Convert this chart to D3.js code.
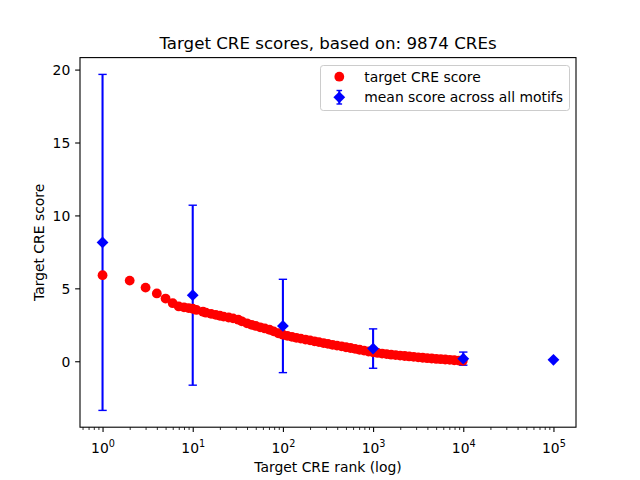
<!DOCTYPE html>
<html>
<head>
<meta charset="utf-8">
<script src="https://cdn.jsdelivr.net/npm/d3@7"></script>
<style>
  body { margin: 0; background: #fff; }
  svg { display: block; font-family: "DejaVu Sans", sans-serif; }
</style>
</head>
<body>
<div id="chart-area"><svg></svg></div>
<script>
// Target CRE score, one entry per plotted rank
const creRanks = [1, 2, 3, 4, 5, 6, 7, 8, 9,
    10, 11, 13, 14, 16, 18, 20, 22, 25, 28, 32, 35, 40, 45, 50, 56, 63, 71, 79, 89,
    100, 112, 126, 141, 158, 178, 200, 224, 251, 282, 316, 355, 398, 447, 501, 562, 631, 708, 794, 891,
    1000, 1122, 1259, 1413, 1585, 1778, 1995, 2239, 2512, 2818, 3162, 3548, 3981, 4467, 5012, 5623, 6310, 7079, 7943, 8913, 9874];
const creScores = [5.9, 5.53, 5.05, 4.65, 4.3, 3.98, 3.76, 3.7, 3.65,
    3.6, 3.52, 3.4, 3.33, 3.25, 3.18, 3.12, 3.06, 3.0, 2.94, 2.85, 2.74, 2.6, 2.5, 2.42, 2.33, 2.25, 2.16, 2.05, 1.92,
    1.82, 1.74, 1.67, 1.61, 1.55, 1.49, 1.43, 1.37, 1.31, 1.25, 1.19, 1.13, 1.07, 1.02, 0.96, 0.91, 0.85, 0.79, 0.73, 0.67,
    0.61, 0.57, 0.53, 0.49, 0.45, 0.42, 0.39, 0.36, 0.33, 0.3, 0.27, 0.24, 0.21, 0.19, 0.16, 0.14, 0.12, 0.1, 0.07, 0.05, 0.03];

// Mean score across all motifs, with error (std)
const meanRanks = [1, 10, 100, 1000, 10000, 100000];
const meanScores = [8.15, 4.53, 2.42, 0.87, 0.18, 0.1];
const meanErrors = [11.52, 6.17, 3.2, 1.35, 0.45, 0];

const xTicks = [1, 10, 100, 1000, 10000, 100000];
const yTicks = [0, 5, 10, 15, 20];

const titleText = "Target CRE scores, based on: 9874 CREs";
const xLabel = "Target CRE rank (log)";
const yLabel = "Target CRE score";
const legendLabels = ["target CRE score", "mean score across all motifs"];

const width = 640, height = 480;
const svg = d3.select("#chart-area").select("svg")
    .attr("width", width).attr("height", height);

// matplotlib default axes box
const margin = { top: 57.6, right: 64, bottom: 52.8, left: 80 };
const x0 = margin.left, x1 = width - margin.right;
const y0 = height - margin.bottom, y1 = margin.top;

// Autoscale with 5% padding like matplotlib
const lx = d3.extent(creRanks.concat(meanRanks)).map(Math.log10);
const padX = (lx[1] - lx[0]) * 0.05;
const x = d3.scaleLog().domain([10 ** (lx[0] - padX), 10 ** (lx[1] + padX)]).range([x0, x1]);

const lo = d3.min(meanScores.map((d, i) => d - meanErrors[i]).concat(creScores));
const hi = d3.max(meanScores.map((d, i) => d + meanErrors[i]).concat(creScores));
const padY = (hi - lo) * 0.05;
const y = d3.scaleLinear().domain([lo - padY, hi + padY]).range([y0, y1]);

const fontSize = 13.9;
const dotR = 4.9;

// ---- axes ----
const xAxis = svg.append("g").attr("transform", `translate(0,${y0})`)
    .call(d3.axisBottom(x).tickValues(xTicks).tickSize(4.86).tickSizeOuter(0).tickFormat(""));
xAxis.select(".domain").remove();
xAxis.selectAll("line").attr("stroke", "#000").attr("stroke-width", 1.1);
xAxis.selectAll(".tick text").each(function (d) {
    const t = d3.select(this)
        .attr("y", 25.8).attr("dy", 0)
        .attr("fill", "#000").attr("font-size", fontSize)
        .attr("font-family", "DejaVu Sans").attr("text-anchor", "middle");
    t.append("tspan").text("10");
    t.append("tspan").attr("dy", -6.3).attr("font-size", 9.7).text(Math.round(Math.log10(d)));
});

// minor ticks 2..9 per decade
const dom = x.domain();
const minor = [];
for (let e = -1; e <= 5; e++) {
    for (let m = 2; m <= 9; m++) {
        const v = m * 10 ** e;
        if (v >= dom[0] && v <= dom[1]) minor.push(v);
    }
}
const xMinor = svg.append("g").attr("transform", `translate(0,${y0})`)
    .call(d3.axisBottom(x).tickValues(minor).tickSize(2.78).tickSizeOuter(0).tickFormat(""));
xMinor.select(".domain").remove();
xMinor.selectAll("line").attr("stroke", "#000").attr("stroke-width", 0.83);

const yAxis = svg.append("g").attr("transform", `translate(${x0},0)`)
    .call(d3.axisLeft(y).tickValues(yTicks).tickSize(4.86).tickPadding(4.86).tickSizeOuter(0));
yAxis.select(".domain").remove();
yAxis.selectAll("line").attr("stroke", "#000").attr("stroke-width", 1.1);
yAxis.selectAll("text").attr("fill", "#000").attr("font-size", fontSize)
    .attr("font-family", "DejaVu Sans").attr("dy", "0.36em");

// ---- plot area ----
const plot = svg.append("g");

// error bars
const errs = meanRanks.map((r, i) => ({ r, m: meanScores[i], e: meanErrors[i] }));
plot.selectAll("line.err").data(errs).join("line").attr("class", "err")
    .attr("x1", d => x(d.r)).attr("x2", d => x(d.r))
    .attr("y1", d => y(d.m - d.e)).attr("y2", d => y(d.m + d.e))
    .attr("stroke", "#0000ff").attr("stroke-width", 2.08);
["lo", "hi"].forEach(k => {
    plot.selectAll("line.cap" + k).data(errs.filter(d => d.e > 0)).join("line").attr("class", "cap" + k)
        .attr("x1", d => x(d.r) - 4.17).attr("x2", d => x(d.r) + 4.17)
        .attr("y1", d => y(k === "lo" ? d.m - d.e : d.m + d.e))
        .attr("y2", d => y(k === "lo" ? d.m - d.e : d.m + d.e))
        .attr("stroke", "#0000ff").attr("stroke-width", 1.4);
});

// red target CRE scores
plot.selectAll("circle.cre").data(creRanks.map((r, i) => [r, creScores[i]])).join("circle")
    .attr("class", "cre")
    .attr("cx", d => x(d[0])).attr("cy", d => y(d[1])).attr("r", dotR)
    .attr("fill", "#ff0000");

// blue diamonds
const dia = 5.9;
const diamond = `M0,${-dia}L${dia},0L0,${dia}L${-dia},0Z`;
plot.selectAll("path.mean").data(errs).join("path").attr("class", "mean")
    .attr("d", diamond)
    .attr("transform", d => `translate(${x(d.r)},${y(d.m)})`)
    .attr("fill", "#0000ff");

// frame
svg.append("rect").attr("x", x0).attr("y", y1).attr("width", x1 - x0).attr("height", y0 - y1)
    .attr("fill", "none").attr("stroke", "#000").attr("stroke-width", 1.1);

// ---- text ----
svg.append("text").attr("x", (x0 + x1) / 2).attr("y", 49.3)
    .attr("text-anchor", "middle").attr("font-size", 16.67).text(titleText);
svg.append("text").attr("x", (x0 + x1) / 2).attr("y", 471.5)
    .attr("text-anchor", "middle").attr("font-size", fontSize).text(xLabel);
svg.append("text").attr("transform", `translate(43.5,${(y0 + y1) / 2}) rotate(-90)`)
    .attr("text-anchor", "middle").attr("font-size", fontSize).text(yLabel);

// ---- legend ----
const lg = svg.append("g");
lg.append("rect").attr("x", 320.5).attr("y", 65.5).attr("width", 249).attr("height", 45)
    .attr("rx", 2.8).attr("fill", "#fff").attr("fill-opacity", 0.8)
    .attr("stroke", "#cccccc").attr("stroke-width", 1);
lg.append("circle").attr("cx", 339.3).attr("cy", 76.7).attr("r", dotR).attr("fill", "#ff0000");
lg.append("line").attr("x1", 339.3).attr("x2", 339.3).attr("y1", 90.5).attr("y2", 104)
    .attr("stroke", "#0000ff").attr("stroke-width", 2.08);
[90.5, 104].forEach(cy => lg.append("line").attr("x1", 336.5).attr("x2", 342.1)
    .attr("y1", cy).attr("y2", cy).attr("stroke", "#0000ff").attr("stroke-width", 1.4));
lg.append("path").attr("d", diamond).attr("transform", "translate(339.3,97.3)").attr("fill", "#0000ff");
legendLabels.forEach((t, i) => {
    lg.append("text").attr("x", 364.3).attr("y", 81.5 + i * 20.5)
        .attr("font-size", fontSize).text(t);
});
</script>
</body>
</html>
